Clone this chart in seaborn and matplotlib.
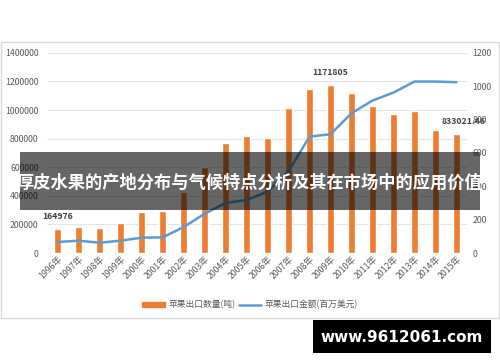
import numpy as np
import pandas as pd
import matplotlib
matplotlib.use('Agg')
import matplotlib.pyplot as plt
import seaborn as sns
from matplotlib.patches import Rectangle
from matplotlib.lines import Line2D

# Data
years = [f'{y}年' for y in range(1996, 2016)]
export_qty = [164976, 185000, 172000, 213000, 290000, 297000, 430000, 600000,
              768000, 820000, 805000, 1016000, 1146000, 1171805, 1118000,
              1029000, 970000, 992000, 862000, 833021.46]
export_value = [66, 74, 62, 74, 92, 94, 155, 235, 300, 318, 368, 490,
                698, 712, 838, 914, 962, 1028, 1028, 1024]
qty_labels = {0: '164976', 13: '1171805', 19: '833021.46'}

left_ticks = [0, 200000, 400000, 600000, 800000, 1000000, 1200000, 1400000]
right_ticks = [0, 200, 400, 600, 800, 1000, 1200]

title = '厚皮水果的产地分布与气候特点分析及其在市场中的应用价值'
watermark = 'www.9612061.com'

sns.set_style('white')
plt.rcParams['font.family'] = ['Noto Sans CJK SC', 'DejaVu Sans']

df = pd.DataFrame({'year': years, 'qty': export_qty, 'value': export_value})

orange = '#ED7D31'
blue = '#5B9BD5'
tick_col = '#595959'

fig = plt.figure(figsize=(5, 3.62), dpi=100)
ax = fig.add_axes([0.094, 0.301, 0.84, 0.553])

# outer frame of the chart
fig.patches.append(Rectangle((0.002, 1 - 318 / 362), 0.996, (318 - 42) / 362,
                             transform=fig.transFigure, facecolor='none',
                             edgecolor='#D9D9D9', lw=1, zorder=0))

sns.barplot(data=df, x='year', y='qty', color=orange, width=0.35,
            saturation=1, ax=ax, zorder=3)
ax.set_ylim(0, 1400000)
ax.set_xlim(-0.5, 19.5)
ax.set_yticks(left_ticks)
ax.set_yticklabels([str(t) for t in left_ticks])
ax.grid(axis='y', color='#E4E4E4', lw=0.8, zorder=0)
ax.set_axisbelow(True)
for s in ax.spines.values():
    s.set_visible(False)
ax.tick_params(axis='y', length=0, labelsize=6.3, labelcolor=tick_col, pad=6)
ax.tick_params(axis='x', length=0, labelsize=6.3, labelcolor=tick_col, pad=1)
plt.setp(ax.get_xticklabels(), rotation=45, ha='right', rotation_mode='anchor')
ax.set_xlabel('')
ax.set_ylabel('')

for i, txt in qty_labels.items():
    dx = 5 if i == 19 else 0
    ax.annotate(txt, (i, export_qty[i]), xytext=(dx, 6), textcoords='offset points',
                ha='center', va='bottom', fontsize=6.3, fontweight='bold',
                color='#404040', zorder=5)

ax2 = ax.twinx()
sns.lineplot(data=df, x='year', y='value', color=blue, lw=1.8, ax=ax2,
             sort=False, zorder=4)
ax2.set_ylim(0, 1200)
ax2.set_yticks(right_ticks)
ax2.set_yticklabels([str(t) for t in right_ticks])
for s in ax2.spines.values():
    s.set_visible(False)
ax2.tick_params(axis='y', length=0, labelsize=6.3, labelcolor=tick_col, pad=4)
ax2.set_ylabel('')
ax2.set_xlabel('')

handles = [Rectangle((0, 0), 1, 1, color=orange),
           Line2D([0], [0], color=blue, lw=1.8)]
fig.legend(handles, ['苹果出口数量(吨)', '苹果出口金额(百万美元)'],
           loc='center', bbox_to_anchor=(0.5, 1 - 305 / 362), ncol=2,
           frameon=False, fontsize=6.3, labelcolor=tick_col,
           handlelength=2.6, handleheight=0.5, columnspacing=0.4,
           handletextpad=0.4)

# dark banner with the title
fig.patches.append(Rectangle((20 / 500, 1 - 210 / 362), 460 / 500, 58 / 362,
                             transform=fig.transFigure, facecolor='black',
                             alpha=0.6, edgecolor='none', zorder=10))
fig.text(0.5, 1 - 183 / 362, title, ha='center', va='center', color='white',
         fontsize=12.4, fontweight='bold', zorder=11)

# watermark
fig.patches.append(Rectangle((313 / 500, 1 - 353 / 362), 178 / 500, 33 / 362,
                             transform=fig.transFigure, facecolor='black',
                             edgecolor='none', zorder=10))
fig.text(402 / 500, 1 - 337 / 362, watermark, ha='center', va='center',
         color='white', fontsize=11, fontweight='bold', zorder=11,
         family='DejaVu Sans')

fig.savefig('out.png', dpi=100)
